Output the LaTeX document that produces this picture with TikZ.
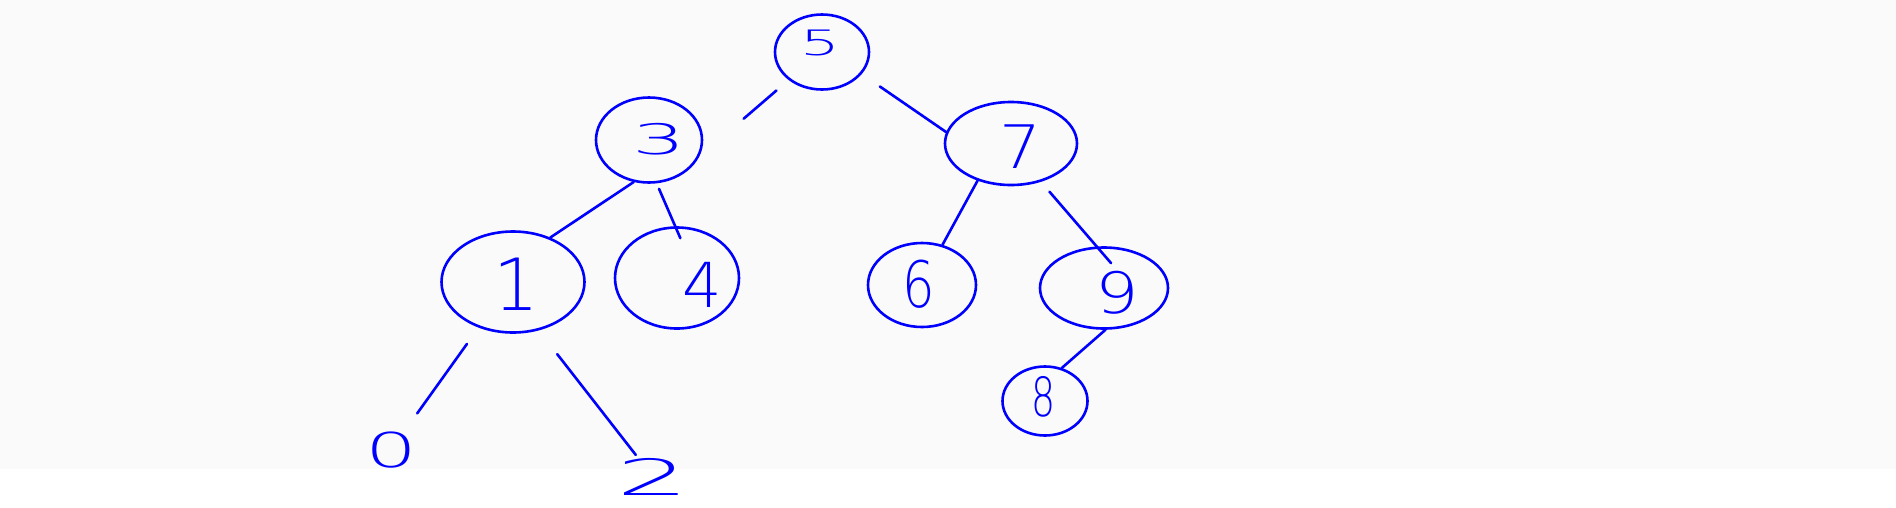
\documentclass[tikz,border=0pt]{standalone}
\usepackage{graphicx}
\usepackage{fontspec}
\IfFontExistsTF{DejaVu Sans ExtraLight}
  {\newfontfamily\handfont{DejaVu Sans ExtraLight}}
  {\newfontfamily\handfont{Liberation Sans}}
\usetikzlibrary{shapes.geometric}
\definecolor{pen}{RGB}{0,0,255}
\definecolor{paper}{RGB}{250,250,250}
\newcommand\hdig[3]{\scalebox{#1}[1]{\fontsize{#2}{#2}\selectfont\handfont #3}}
\tikzset{
  pencircle/.style={ellipse, draw=pen, line width=2.6pt, inner sep=0pt, text=pen},
  penlabel/.style={inner sep=0pt, text=pen},
  penline/.style={draw=pen, line width=2.6pt, line cap=round},
  every label/.style={inner sep=0pt, text=pen}
}
\begin{document}
\begin{tikzpicture}[x=1pt,y=-1pt]
\useasboundingbox (0,0) rectangle (1896,507);
\fill[white] (0,0) rectangle (1896,507);
\fill[paper] (0,0) rectangle (1896,469);

\node[pencircle, minimum width=94pt, minimum height=75pt,
  label={[shift={(-2pt,9pt)}]center:\hdig{1.8}{35pt}{5}}] (n5) at (822,52) {};
\node[pencircle, minimum width=106pt, minimum height=85pt,
  label={[shift={(10pt,1pt)}]center:\hdig{2.0}{42pt}{3}}] (n3) at (649,140) {};
\node[pencircle, minimum width=132pt, minimum height=83pt,
  label={[shift={(9pt,-3.5pt)}]center:\hdig{1.1}{60pt}{7}}] (n7) at (1011,143.5) {};
\node[pencircle, minimum width=143pt, minimum height=101pt,
  label={[shift={(3pt,-2pt)}]center:\hdig{1.0}{72pt}{1}}] (n1) at (513,282) {};
\node[pencircle, minimum width=124pt, minimum height=101pt,
  label={[shift={(25pt,-7pt)}]center:\hdig{1.0}{62pt}{4}}] (n4) at (677,278) {};
\node[pencircle, minimum width=108pt, minimum height=84pt,
  label={[shift={(-3pt,1pt)}]center:\hdig{0.8}{64pt}{6}}] (n6) at (922,285) {};
\node[pencircle, minimum width=128pt, minimum height=81pt,
  label={[shift={(13pt,-5pt)}]center:\hdig{1.2}{57pt}{9}}] (n9) at (1104,288) {};
\node[pencircle, minimum width=85pt, minimum height=69pt,
  label={[shift={(-1pt,4pt)}]center:\hdig{0.7}{54pt}{8}}] (n8) at (1045,401) {};
\node[penlabel] (n0) at (391,450) {\hdig{1.7}{48pt}{0}};
\node[penlabel] (n2) at (653,477) {\hdig{2.3}{50pt}{2}};

\draw[penline, shorten <=16pt, shorten >=59pt] (n5.220) -- (n3.-19);
\draw[penline, shorten <=22pt] (n5.-29) -- (n7.170);
\draw[penline] (n3.-110) -- (n1.50);
\draw[penline, shorten <=6pt, shorten >=-13pt] (n3.-80) -- (n4.92);
\draw[penline] (n7.228) -- (n6.63);
\draw[penline, shorten <=13pt, shorten >=-22pt] (n7.-52) -- (n9.100);
\draw[penline] (n9.-88) -- (n8.63);
\draw[penline, shorten <=20pt, shorten >=45pt] (n1.233) -- (n0.center);
\draw[penline, shorten <=30pt, shorten >=28pt] (n1.-62) -- (n2.center);
\end{tikzpicture}
\end{document}
